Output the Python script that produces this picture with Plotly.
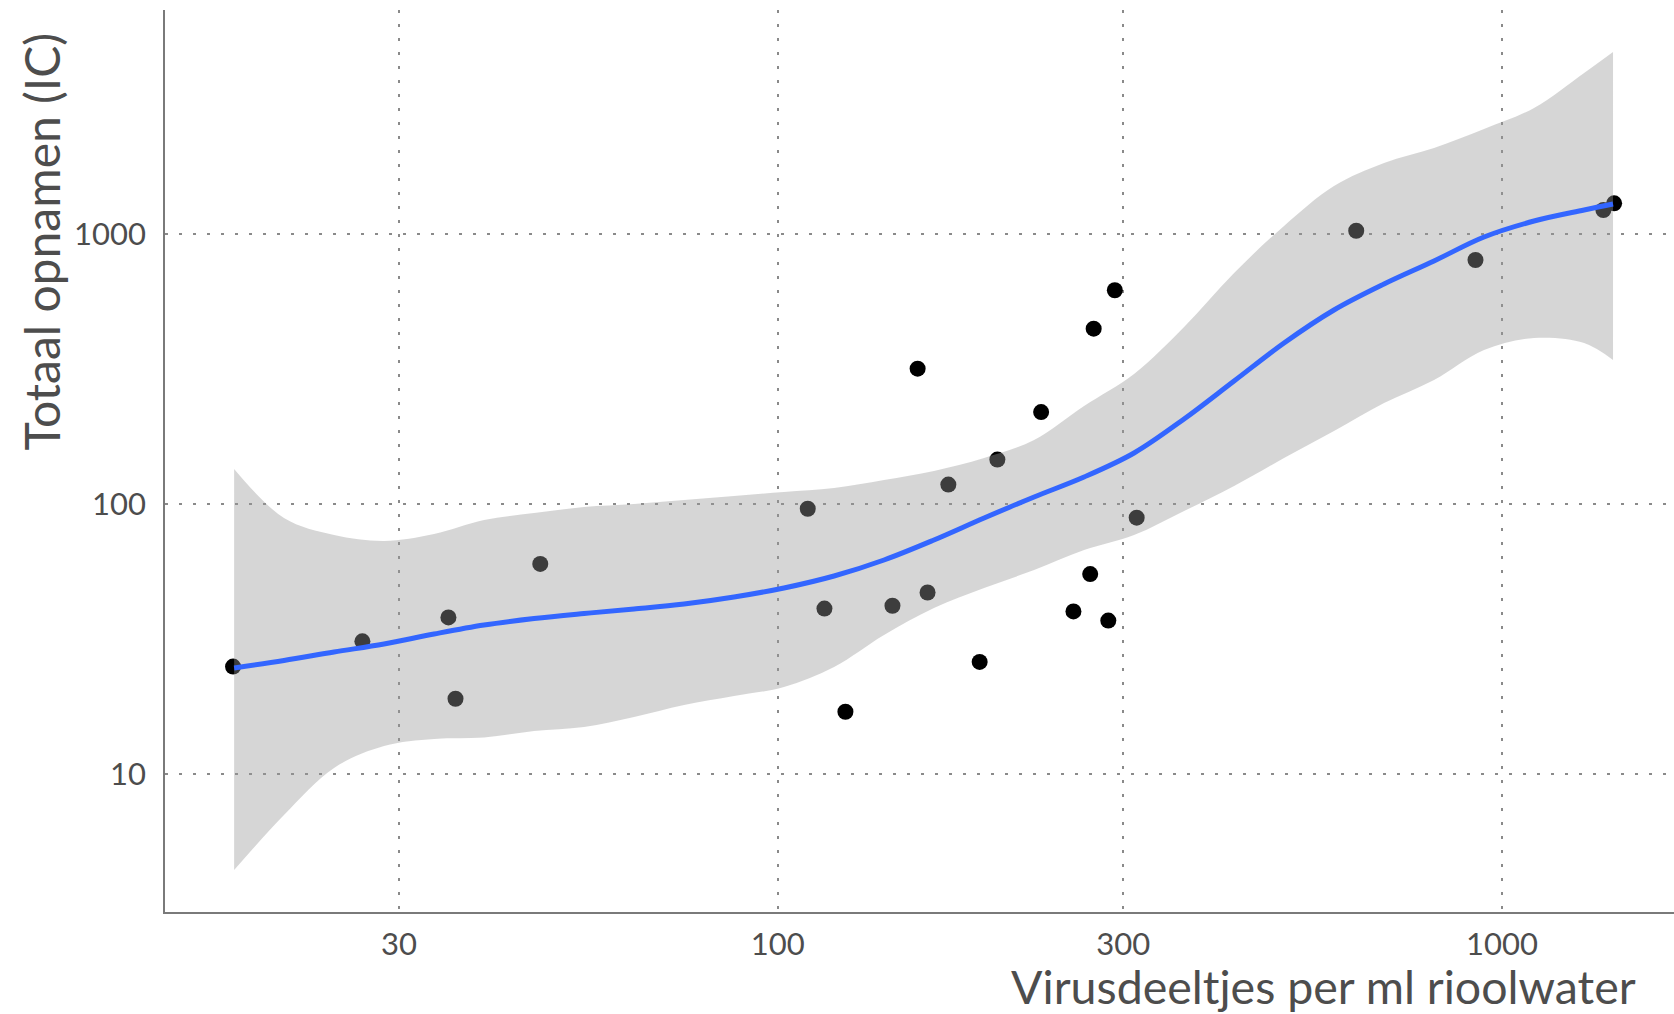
import plotly.graph_objects as go

# Observations: virus particles per ml of sewage water vs. total ICU admissions
virus = [17.7, 26.7, 35.1, 35.9, 47.0, 110, 116, 124, 144, 156, 161, 172, 190,
         201, 231, 256, 270, 273, 286, 292, 313, 629, 919, 1380, 1428]
opnamen = [25, 31, 38, 19, 60, 96, 41, 17, 42, 317, 47, 118, 26,
           146, 219, 40, 55, 446, 37, 619, 89, 1028, 801, 1227, 1299]

# Smoothed trend (loess) with its confidence band
fit_x = [17.76, 20.81, 24.40, 28.60, 33.53, 39.31, 46.09, 54.02, 63.33, 74.24,
         87.03, 102.0, 119.6, 140.2, 164.3, 192.7, 225.9, 264.8, 310.4, 363.9,
         426.6, 500.0, 586.1, 687.2, 805.5, 944.3, 1107, 1298, 1423]
fit_y = [24.70, 26.33, 28.31, 30.30, 33.00, 35.63, 37.66, 39.30, 40.84, 42.62,
         45.24, 48.86, 54.12, 62.03, 73.56, 88.73, 106.2, 125.9, 154.5, 206.5,
         285.5, 394.7, 523.0, 652.8, 794.3, 974.7, 1117, 1227, 1291]
fit_lo = [4.41, 7.05, 10.53, 12.70, 13.48, 13.65, 14.43, 14.93, 16.26, 18.01,
          19.45, 21.00, 24.91, 32.72, 41.19, 48.86, 56.94, 67.54, 76.77, 94.21,
          116.6, 148.0, 186.4, 236.6, 288.0, 371.8, 411.9, 394.7, 341.5]
fit_hi = [134.8, 88.73, 76.77, 72.95, 77.43, 87.23, 92.6, 97.47, 100.0, 103.5,
          107.1, 110.8, 114.6, 122.7, 132.5, 148.0, 172.6, 230.7, 303.1, 452.4,
          717.1, 1071, 1506, 1833, 2082, 2448, 2929, 3947, 4721]

x_ticks = [30, 100, 300, 1000]
y_ticks = [10, 100, 1000]

FONT = "Lato, 'Noto Sans', sans-serif"
TEXT = "#4d4d4d"

fig = go.Figure()

# points first, so the translucent band shades the ones it covers
fig.add_trace(go.Scatter(
    x=virus, y=opnamen, mode="markers",
    marker=dict(color="black", size=16, line=dict(width=0)),
    hoverinfo="x+y", showlegend=False))

fig.add_trace(go.Scatter(
    x=fit_x, y=fit_lo, mode="lines",
    line=dict(width=0, shape="spline", smoothing=1.0),
    hoverinfo="skip", showlegend=False))
fig.add_trace(go.Scatter(
    x=fit_x, y=fit_hi, mode="lines",
    line=dict(width=0, shape="spline", smoothing=1.0),
    fill="tonexty", fillcolor="rgba(153,153,153,0.4)",
    hoverinfo="skip", showlegend=False))

fig.add_trace(go.Scatter(
    x=fit_x, y=fit_y, mode="lines",
    line=dict(color="#3366FF", width=5, shape="spline", smoothing=1.0),
    hoverinfo="skip", showlegend=False))

grid = dict(showgrid=True, gridcolor="#8a8a8a", gridwidth=2, griddash="2.5px,11.5px",
            showline=True, linecolor="#7a7a7a", linewidth=1.6, mirror=False,
            ticks="", zeroline=False,
            tickfont=dict(family=FONT, size=31, color=TEXT))

fig.update_xaxes(type="log", range=[1.154, 3.2374],
                 tickvals=x_ticks, ticktext=[str(v) for v in x_ticks],
                 ticklabelstandoff=4, **grid)
fig.update_yaxes(type="log", range=[0.4889, 3.8296],
                 tickvals=y_ticks, ticktext=[str(v) for v in y_ticks],
                 ticklabelstandoff=11, **grid)

fig.add_annotation(text="Virusdeeltjes per ml rioolwater",
                   xref="paper", yref="paper", x=0.9755, y=-0.0818,
                   xanchor="right", yanchor="middle", showarrow=False, borderpad=0,
                   font=dict(family=FONT, size=46.5, color=TEXT))
fig.add_annotation(text="Totaal opnamen (IC)", textangle=-90,
                   xref="paper", yref="paper", x=-0.0822, y=0.7434,
                   xanchor="center", yanchor="middle", showarrow=False, borderpad=0,
                   font=dict(family=FONT, size=48, color=TEXT))

fig.update_layout(
    width=1674, height=1014,
    margin=dict(l=165, r=0, t=10, b=102),
    plot_bgcolor="white", paper_bgcolor="white",
    showlegend=False,
)

fig.write_html("out.html")
